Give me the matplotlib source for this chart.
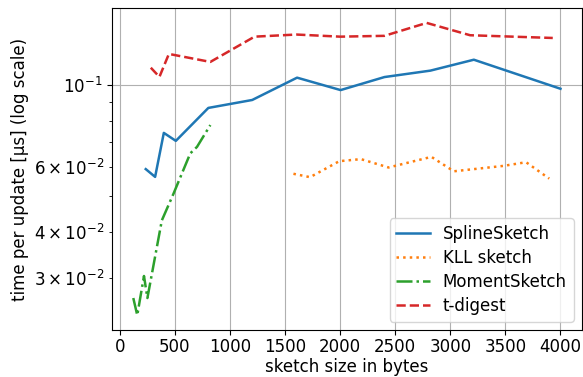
import matplotlib
matplotlib.use("Agg")
import matplotlib.pyplot as plt

spline_x = [237, 322, 401, 510, 805, 1203, 1610, 2005, 2403, 2820, 3214, 4000]
spline_y = [0.0592, 0.0564, 0.0742, 0.0706, 0.0867, 0.0911, 0.1047, 0.0969, 0.1051, 0.1094, 0.1171, 0.0977]

kll_x = [1577, 1728, 1993, 2190, 2440, 2829, 3032, 3482, 3688, 3898]
kll_y = [0.0575, 0.0563, 0.0622, 0.0630, 0.0598, 0.0639, 0.0584, 0.0604, 0.0618, 0.0558]

moment_x = [124, 160, 221, 252, 383, 489, 641, 702, 823]
moment_y = [0.0265, 0.0238, 0.0304, 0.0265, 0.0430, 0.0508, 0.0653, 0.0680, 0.0779]

tdigest_x = [283, 361, 447, 823, 1224, 1604, 2002, 2403, 2786, 3180, 3930]
tdigest_y = [0.1114, 0.1052, 0.1214, 0.1155, 0.1352, 0.1370, 0.1352, 0.1359, 0.1473, 0.1364, 0.1341]

plt.rcParams['font.size'] = 12
fig, ax = plt.subplots(figsize=(5.83, 3.77), dpi=100)
fig.subplots_adjust(left=0.192, right=0.998, top=0.978, bottom=0.125)

ax.plot(spline_x, spline_y, '-', color='tab:blue', label='SplineSketch', lw=1.8)
ax.plot(kll_x, kll_y, ':', color='tab:orange', label='KLL sketch', lw=1.8)
ax.plot(moment_x, moment_y, '-.', color='tab:green', label='MomentSketch', lw=1.8)
ax.plot(tdigest_x, tdigest_y, '--', color='tab:red', label='t-digest', lw=1.8)

ax.set_yscale('log')
ax.set_xticks([0, 500, 1000, 1500, 2000, 2500, 3000, 3500, 4000])
ax.tick_params(axis='x', pad=2.5)
ax.grid(True, which='major')
ax.set_xlabel('sketch size in bytes', labelpad=1.5)
ax.set_ylabel('time per update [µs] (log scale)')
ax.legend(loc='lower right', labelspacing=0.36)
fig.savefig('out.png')
